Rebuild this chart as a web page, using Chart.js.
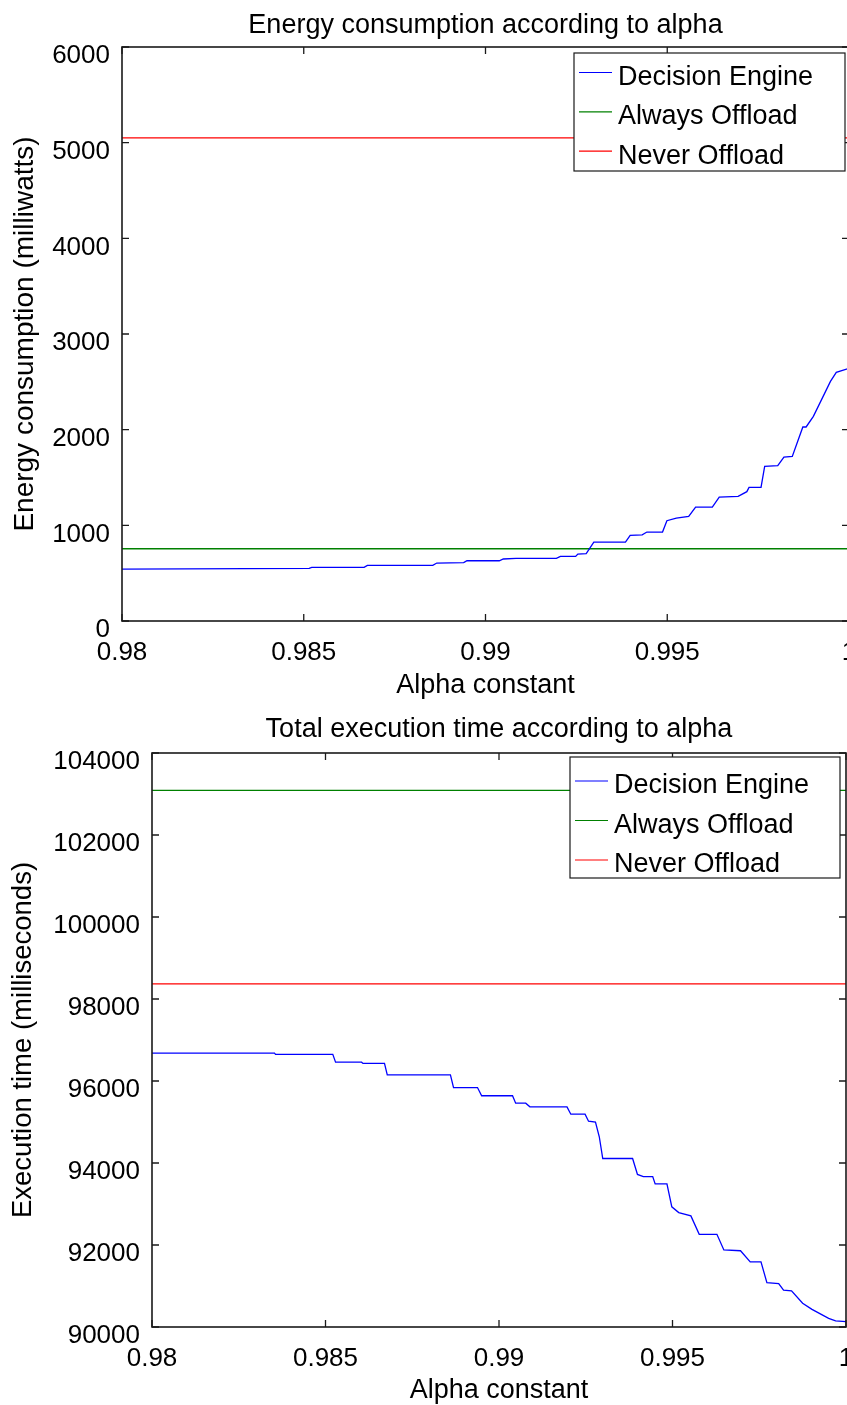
<!DOCTYPE html>
<html lang="en">
<head>
  <meta charset="UTF-8" />
  <title>Energy consumption and execution time according to alpha</title>
  <script src="https://cdn.jsdelivr.net/npm/chart.js"></script>
  <style>
    body {
      margin: 0;
      background: #fff;
      overflow: hidden;
      width: 847px;
      height: 1405px;
    }
    canvas {
      position: absolute;
      left: 0;
      display: block;
    }
    #energyChart { top: 0; }
    #timeChart { top: 700px; }
  </style>
</head>
<body>
  <canvas id="energyChart" width="880" height="700"></canvas>
  <canvas id="timeChart" width="880" height="705"></canvas>

  <script>
    // axis ticks
    const alphaTicks = [0.98, 0.985, 0.99, 0.995, 1];
    const energyTicks = [0, 1000, 2000, 3000, 4000, 5000, 6000];
    const timeTicks = [90000, 92000, 94000, 96000, 98000, 100000, 102000, 104000];
    const seriesNames = ["Decision Engine", "Always Offload", "Never Offload"];
    const seriesColors = ["#0000ff", "#008000", "#ff0000"];
    const alphaEnds = [0.98, 1];

    // energy (milliwatts)
    const energyAlpha = [0.98, 0.98515, 0.98522, 0.98666, 0.98675, 0.98855, 0.98866, 0.9894, 0.98949, 0.99038,
      0.99049, 0.99084, 0.99195, 0.99206, 0.99248, 0.99254, 0.99277, 0.99298, 0.99385, 0.99398,
      0.99431, 0.99444, 0.99487, 0.99499, 0.99525, 0.99559, 0.99578, 0.99624, 0.99643, 0.99695,
      0.99719, 0.99725, 0.99758, 0.99768, 0.99804, 0.99821, 0.99844, 0.99873, 0.99882, 0.99902,
      0.99949, 0.99965, 1.0];
    const energyEngine = [543, 550, 560, 560, 581, 581, 606, 610, 630, 630,
      648, 654, 654, 675, 675, 700, 705, 825, 825, 895,
      900, 930, 930, 1048, 1076, 1093, 1191, 1191, 1296, 1302,
      1352, 1397, 1397, 1616, 1623, 1714, 1721, 2028, 2028, 2139,
      2505, 2599, 2640];
    const energyAlways = [755, 755];
    const energyNever = [5050, 5050];

    // execution time (milliseconds)
    const timeAlpha = [0.98, 0.98353, 0.98356, 0.98521, 0.98529, 0.98604, 0.98608, 0.9867, 0.98678, 0.9886,
      0.98869, 0.98938, 0.9895, 0.99039, 0.99048, 0.99077, 0.99089, 0.99196, 0.99207, 0.99248,
      0.99258, 0.99278, 0.99289, 0.99299, 0.99385, 0.99399, 0.99416, 0.99443, 0.9945, 0.99484,
      0.99498, 0.99518, 0.99553, 0.99577, 0.99628, 0.99648, 0.99696, 0.99724, 0.99755, 0.99772,
      0.99806, 0.9982, 0.99843, 0.99875, 0.99902, 0.9995, 0.9997, 1.0];
    const timeEngine = [96680, 96680, 96650, 96650, 96460, 96460, 96430, 96430, 96150, 96150,
      95840, 95840, 95640, 95640, 95460, 95460, 95370, 95370, 95190, 95190,
      95020, 95000, 94640, 94110, 94110, 93720, 93670, 93670, 93490, 93490,
      92930, 92790, 92710, 92260, 92260, 91880, 91860, 91590, 91590, 91080,
      91060, 90900, 90880, 90580, 90430, 90210, 90150, 90130];
    const timeAlways = [103090, 103090];
    const timeNever = [98370, 98370];

    const FONT = "'Liberation Sans', Arial, Helvetica, sans-serif";
    Chart.defaults.font.family = FONT;
    Chart.defaults.color = "#000";

    const toPoints = (xs, ys) => xs.map((x, i) => ({ x: x, y: ys[i] }));

    // MATLAB style box: frame, inward ticks on all sides, boxed legend
    const matlabBox = {
      id: "matlabBox",
      afterDatasetsDraw(chart, args, opts) {
        const ctx = chart.ctx;
        const a = chart.chartArea;
        const sx = chart.scales.x, sy = chart.scales.y;
        ctx.save();
        ctx.strokeStyle = "#1a1a1a";
        ctx.lineWidth = 1.3;
        ctx.beginPath();
        sx.ticks.forEach((t) => {
          const px = sx.getPixelForValue(t.value);
          ctx.moveTo(px, a.bottom); ctx.lineTo(px, a.bottom - 7);
          ctx.moveTo(px, a.top); ctx.lineTo(px, a.top + 7);
        });
        sy.ticks.forEach((t) => {
          const py = sy.getPixelForValue(t.value);
          ctx.moveTo(a.left, py); ctx.lineTo(a.left + 7, py);
          ctx.moveTo(a.right, py); ctx.lineTo(a.right - 7, py);
        });
        ctx.stroke();
        ctx.lineWidth = 1.6;
        ctx.strokeRect(a.left, a.top, a.right - a.left, a.bottom - a.top);

        // legend
        const bx = a.right - opts.inset[0] - opts.w;
        const by = a.top + opts.inset[1];
        ctx.fillStyle = "#fff";
        ctx.fillRect(bx, by, opts.w, opts.h);
        ctx.lineWidth = 1.2;
        ctx.strokeRect(bx, by, opts.w, opts.h);
        ctx.font = "27px " + FONT;
        ctx.textBaseline = "middle";
        ctx.textAlign = "left";
        chart.data.datasets.forEach((ds, i) => {
          const y = by + opts.first + i * opts.step;
          ctx.strokeStyle = ds.borderColor;
          ctx.lineWidth = 1.2;
          ctx.beginPath();
          ctx.moveTo(bx + 5, y);
          ctx.lineTo(bx + 38, y);
          ctx.stroke();
          ctx.fillStyle = "#000";
          ctx.fillText(ds.label, bx + 44, y + 5);
        });
        ctx.restore();
      }
    };

    function makeChart(id, c) {
      return new Chart(document.getElementById(id).getContext("2d"), {
        type: "line",
        data: {
          datasets: c.series.map((pts, i) => ({
            label: seriesNames[i],
            data: pts,
            borderColor: seriesColors[i],
            borderWidth: 1.3,
            pointRadius: 0,
            tension: 0,
          })),
        },
        options: {
          responsive: false,
          animation: false,
          events: [],
          layout: { padding: { left: 0, top: 0, right: c.padRight, bottom: 0 } },
          plugins: {
            legend: { display: false },
            tooltip: { enabled: false },
            title: {
              display: true,
              text: c.title,
              fullSize: false,
              font: { size: 27, weight: "normal" },
              padding: c.titlePad,
            },
            matlabBox: c.legendBox,
          },
          scales: {
            x: {
              type: "linear",
              min: 0.98,
              max: 1,
              afterBuildTicks: (s) => { s.ticks = alphaTicks.map((v) => ({ value: v })); },
              afterFit: (s) => { s.height = c.xAxisHeight; },
              grid: { display: false, drawTicks: false },
              border: { display: false },
              ticks: {
                font: { size: 26 },
                padding: 16,
                maxRotation: 0,
                autoSkip: false,
                callback: (v) => String(v),
              },
              title: {
                display: true,
                text: "Alpha constant",
                font: { size: 27 },
                padding: { top: 0, bottom: c.xTitleBottom },
              },
            },
            y: {
              min: c.yTicks[0],
              max: c.yTicks[c.yTicks.length - 1],
              afterBuildTicks: (s) => { s.ticks = c.yTicks.map((v) => ({ value: v })); },
              afterFit: (s) => { s.width = c.yAxisWidth; },
              grid: { display: false, drawTicks: false },
              border: { display: false },
              ticks: {
                font: { size: 26 },
                padding: 12,
                labelOffset: 9,
                autoSkip: false,
                callback: (v) => String(v),
              },
              title: {
                display: true,
                text: c.yTitle,
                font: { size: c.yTitleSize },
                padding: { top: c.yTitleTop, bottom: 0 },
              },
            },
          },
        },
        plugins: [matlabBox],
      });
    }

    makeChart("energyChart", {
      title: "Energy consumption according to alpha",
      yTitle: "Energy consumption (milliwatts)",
      yTicks: energyTicks,
      series: [
        toPoints(energyAlpha, energyEngine),
        toPoints(alphaEnds, energyAlways),
        toPoints(alphaEnds, energyNever),
      ],
      padRight: 31,
      titlePad: { top: 9, bottom: 5.6 },
      xAxisHeight: 79,
      xTitleBottom: -1.5,
      yAxisWidth: 122,
      yTitleTop: 8.5,
      yTitleSize: 28,
      legendBox: { inset: [4, 6], w: 271, h: 118, first: 19.5, step: 39.3 },
    });

    makeChart("timeChart", {
      title: "Total execution time according to alpha",
      yTitle: "Execution time (milliseconds)",
      yTicks: timeTicks,
      series: [
        toPoints(timeAlpha, timeEngine),
        toPoints(alphaEnds, timeAlways),
        toPoints(alphaEnds, timeNever),
      ],
      padRight: 34,
      titlePad: { top: 13.5, bottom: 7.1 },
      xAxisHeight: 78,
      xTitleBottom: -1.5,
      yAxisWidth: 152,
      yTitleTop: 7,
      yTitleSize: 27.5,
      legendBox: { inset: [6, 4], w: 270, h: 121, first: 24, step: 39.5 },
    });
  </script>
</body>
</html>
